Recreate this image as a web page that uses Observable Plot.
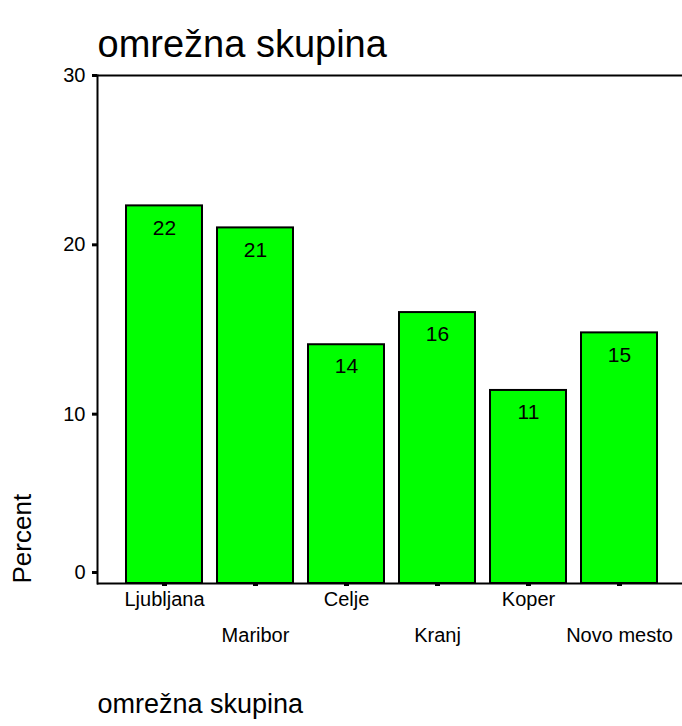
<!DOCTYPE html>
<html><head><meta charset="utf-8">
<script src="https://cdn.jsdelivr.net/npm/d3@7"></script>
<script src="https://cdn.jsdelivr.net/npm/@observablehq/plot@0.6"></script>
<style>body{margin:0;background:#fff;font-family:"Liberation Sans",Arial,sans-serif}</style>
</head><body><div id="chart"></div>
<script>
const categories = ["Ljubljana", "Maribor", "Celje", "Kranj", "Koper", "Novo mesto"];
const percents = [22.3, 21.0, 14.1, 16.0, 11.4, 14.8];
const valueLabels = ["22", "21", "14", "16", "11", "15"];
const yTicks = [0, 10, 20, 30];
const titleText = "omrežna skupina";
const xLabel = "omrežna skupina";
const yLabel = "Percent";

const data = categories.map((c, i) => ({cat: c, pct: percents[i], label: valueLabels[i]}));
const upper = categories.filter((d, i) => i % 2 === 0);
const lower = categories.filter((d, i) => i % 2 === 1);

const chart = Plot.plot({
  width: 682, height: 726,
  marginLeft: 97, marginRight: 0, marginTop: 75, marginBottom: 143,
  style: {fontFamily: "'Liberation Sans', Arial, sans-serif", fontSize: "20px", color: "black", background: "white"},
  x: {type: "band", domain: categories, padding: 0.16, insetLeft: 14, insetRight: 9, axis: null},
  y: {domain: [0, 30], axis: null},
  marks: [
    Plot.barY(data, {x: "cat", y: "pct", fill: "#00ff00", stroke: "black", strokeWidth: 2}),
    Plot.text(data, {x: "cat", y: "pct", text: "label", dy: 22, fontSize: 21, fill: "black"}),
    Plot.ruleY([0, 30], {stroke: "black", strokeWidth: 2}),
    Plot.frame({anchor: "left", stroke: "black", strokeWidth: 2}),
    Plot.axisY(yTicks.filter(d => d !== 0), {tickSize: 5, strokeWidth: 3, tickPadding: 7, fontSize: 20, label: null}),
    Plot.axisY([0], {tickSize: 5, strokeWidth: 3, tickPadding: 7, dy: -11, fontSize: 20, label: null}),
    Plot.axisX(categories, {tickSize: 3, strokeWidth: 5, tickFormat: () => "", label: null}),
    Plot.text(upper, {x: d => d, frameAnchor: "bottom", dy: 22, fontSize: 20}),
    Plot.text(lower, {x: d => d, frameAnchor: "bottom", dy: 58, fontSize: 20}),
    Plot.text([titleText], {frameAnchor: "top-left", dy: -45, textAnchor: "start", fontSize: 38}),
    Plot.text([xLabel], {frameAnchor: "bottom-left", dy: 129, textAnchor: "start", fontSize: 27}),
    Plot.text([yLabel], {frameAnchor: "bottom-left", dx: -67, rotate: -90, textAnchor: "start", fontSize: 26})
  ]
});
document.getElementById("chart").append(chart);
</script>
</body></html>
